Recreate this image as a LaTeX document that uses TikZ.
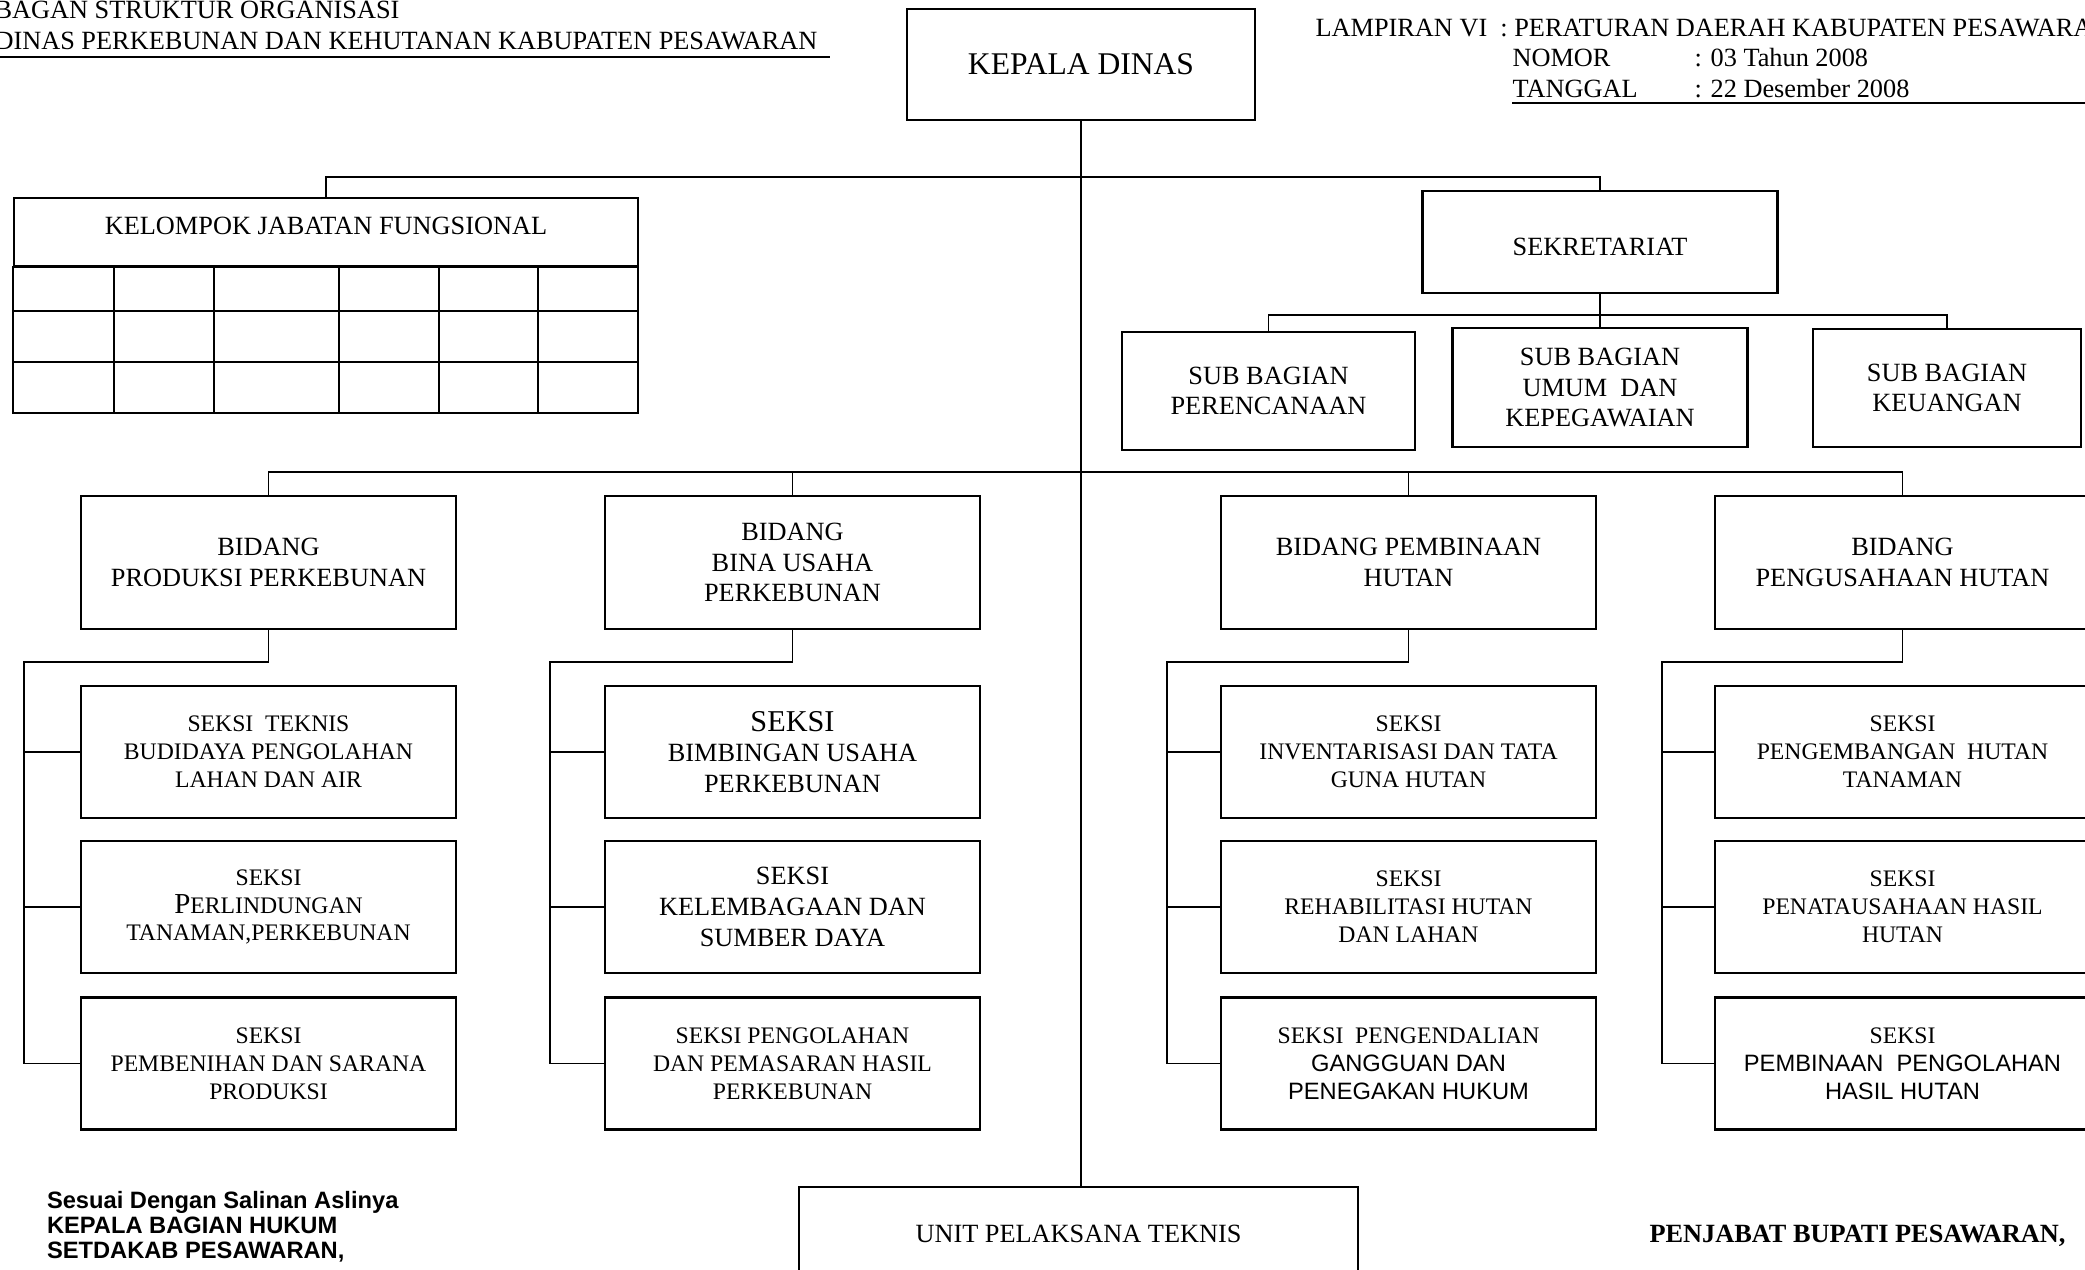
\documentclass[tikz,border=0pt]{standalone}
\usepackage{fontspec}
\setmainfont{Liberation Serif}
\newfontfamily\arialfont{Liberation Sans}

\newcommand{\pxu}{0.38pt}
\newcommand{\fbig}{\fontsize{12}{14}\selectfont}
\newcommand{\fmid}{\fontsize{10}{11.7}\selectfont}
\newcommand{\fsmall}{\fontsize{9}{10.6}\selectfont}

\begin{document}
\begin{tikzpicture}[x=\pxu,y=-\pxu,
box/.style 2 args={draw,line width=0.9pt,inner sep=0pt,align=center,
  minimum width=#1*\pxu,minimum height=#2*\pxu,font=\fmid},
txt/.style={anchor=base west,inner sep=0pt,font=\fmid},
link/.style={line width=0.7pt}]
\path[use as bounding box,fill=white] (0,0) rectangle (2085,1270);
\clip (0,0) rectangle (2085,1270);

% heading
\node[txt] (title1) at (-6,19) {BAGAN STRUKTUR ORGANISASI};
\node[txt] (title2) at (-6,50) {DINAS PERKEBUNAN DAN KEHUTANAN KABUPATEN PESAWARAN};
\draw[line width=0.9pt] (0,57) -- (830,57);
\node[txt] (lampiran) at (1315,37) {LAMPIRAN VI\ \ : PERATURAN DAERAH KABUPATEN PESAWARAN};
\node[txt] (nomor) at (1512,67) {NOMOR};
\node[txt] (nomorval) at (1694,67) {: 03 Tahun 2008};
\node[txt] (tanggal) at (1512,98) {TANGGAL};
\node[txt] (tanggalval) at (1694,98) {: 22 Desember 2008};
\draw[line width=0.9pt] (1512,103) -- (2085,103);

% top
\node[box={348}{111},font=\fbig] (kepala) at (1081,64.5) {KEPALA DINAS};
\node[box={624}{68}] (kjf) at (326,232) {\raisebox{4.4pt}{KELOMPOK JABATAN FUNGSIONAL}};
\draw[line width=0.9pt] (kjf.south west) rectangle (638,413)
  (14,311) -- (638,311) (14,362) -- (638,362)
  (114,266) -- (114,413) (214,266) -- (214,413) (339,266) -- (339,413)
  (439,266) -- (439,413) (538,266) -- (538,413);
\node[box={355}{102}] (sekre) at (1600,242) {\raisebox{-2pt}[\height][0pt]{SEKRETARIAT}};
\node[box={293}{118}] (sbper) at (1268.5,391) {SUB BAGIAN\\PERENCANAAN};
\node[box={295}{119}] (sbumum) at (1600,387.5) {SUB BAGIAN\\UMUM\ \ DAN\\KEPEGAWAIAN};
\node[box={268}{118}] (sbkeu) at (1947,388) {SUB BAGIAN\\KEUANGAN};

% bidang
\node[box={375}{133}] (bid1) at (268.5,562.5) {BIDANG\\PRODUKSI PERKEBUNAN};
\node[box={375}{133}] (bid2) at (792.5,562.5) {BIDANG\\BINA USAHA\\PERKEBUNAN};
\node[box={375}{133}] (bid3) at (1408.5,562.5) {BIDANG PEMBINAAN\\HUTAN};
\node[box={375}{133}] (bid4) at (1902.5,562.5) {BIDANG\\PENGUSAHAAN HUTAN};

% seksi
\node[box={375}{132},font=\fsmall] (sek11) at (268.5,752) {SEKSI\ \ TEKNIS\\BUDIDAYA PENGOLAHAN\\LAHAN DAN AIR};
\node[box={375}{132},font=\fsmall] (sek12) at (268.5,907) {SEKSI\\{\fontsize{11}{10.6}\selectfont P}ERLINDUNGAN\\TANAMAN,PERKEBUNAN};
\node[box={375}{132},font=\fsmall] (sek13) at (268.5,1063.5) {SEKSI\\PEMBENIHAN DAN SARANA\\PRODUKSI};
\node[box={375}{132}] (sek21) at (792.5,752) {{\fontsize{11.5}{13}\selectfont SEKSI}\\BIMBINGAN USAHA\\PERKEBUNAN};
\node[box={375}{132}] (sek22) at (792.5,907) {SEKSI\\KELEMBAGAAN DAN\\SUMBER DAYA};
\node[box={375}{132},font=\fsmall] (sek23) at (792.5,1063.5) {SEKSI PENGOLAHAN\\DAN PEMASARAN HASIL\\PERKEBUNAN};
\node[box={375}{132},font=\fsmall] (sek31) at (1408.5,752) {SEKSI\\INVENTARISASI DAN TATA\\GUNA HUTAN};
\node[box={375}{132},font=\fsmall] (sek32) at (1408.5,907) {SEKSI\\REHABILITASI HUTAN\\DAN LAHAN};
\node[box={375}{132},font=\fsmall] (sek33) at (1408.5,1063.5) {SEKSI\ \ PENGENDALIAN\\{\arialfont GANGGUAN DAN}\\{\arialfont PENEGAKAN HUKUM}};
\node[box={375}{132},font=\fsmall] (sek41) at (1902.5,752) {SEKSI\\PENGEMBANGAN\ \ HUTAN\\TANAMAN};
\node[box={375}{132},font=\fsmall] (sek42) at (1902.5,907) {SEKSI\\PENATAUSAHAAN HASIL\\HUTAN};
\node[box={375}{132},font=\fsmall] (sek43) at (1902.5,1063.5) {SEKSI\\{\arialfont PEMBINAAN\ \ PENGOLAHAN}\\{\arialfont HASIL HUTAN}};

\node[box={559}{94}] (upt) at (1078.5,1234) {UNIT PELAKSANA TEKNIS};

% signatures
\node[txt,font=\arialfont\bfseries\fontsize{9}{9.5}\selectfont] (sign1) at (46.5,1208) {Sesuai Dengan Salinan Aslinya};
\node[txt,font=\arialfont\bfseries\fontsize{9}{9.5}\selectfont] (sign2) at (46.5,1233.5) {KEPALA BAGIAN HUKUM};
\node[txt,font=\arialfont\bfseries\fontsize{9}{9.5}\selectfont] (sign3) at (46.5,1258.5) {SETDAKAB PESAWARAN,};
\node[txt,font=\bfseries\fmid] (bupati) at (1649,1242) {PENJABAT BUPATI PESAWARAN,};

% lines
\coordinate (topbar) at (1081,177);
\coordinate (subbar) at (1600,315);
\coordinate (bidbar) at (1081,472);
\draw[link] (kepala.south) -- (kepala.south |- upt.north);
\draw[link] (kjf.north) |- (topbar) -| (sekre.north);
\draw[link] (sekre.south) -- (sbumum.north);
\draw[link] (sbper.north) |- (subbar) -| (sbkeu.north);
\draw[link] (bid1.north) |- (bidbar) -| (bid4.north);
\path[link] (bid2.north) edge (bid2.north |- bidbar)
  (bid3.north) edge (bid3.north |- bidbar);

\coordinate (spine1) at (24,662);
\coordinate (spine2) at (550,662);
\coordinate (spine3) at (1167,662);
\coordinate (spine4) at (1662,662);
\draw[link] (bid1.south) |- (spine1) |- (sek13.west);
\draw[link] (bid2.south) |- (spine2) |- (sek23.west);
\draw[link] (bid3.south) |- (spine3) |- (sek33.west);
\draw[link] (bid4.south) |- (spine4) |- (sek43.west);
\path[link] (spine1 |- sek11.west) edge (sek11.west)
  (spine1 |- sek12.west) edge (sek12.west)
  (spine2 |- sek21.west) edge (sek21.west)
  (spine2 |- sek22.west) edge (sek22.west)
  (spine3 |- sek31.west) edge (sek31.west)
  (spine3 |- sek32.west) edge (sek32.west)
  (spine4 |- sek41.west) edge (sek41.west)
  (spine4 |- sek42.west) edge (sek42.west);
\end{tikzpicture}
\end{document}
